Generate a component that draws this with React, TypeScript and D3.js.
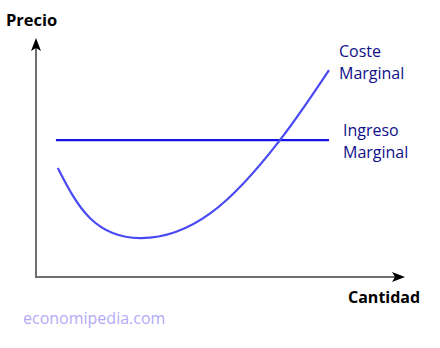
import React from "react";
import * as d3 from "d3";

const costQ = [5.9, 14.6, 28.2, 47.2, 66.1, 79.4];
const costP = [45.6, 24.7, 16.3, 26.6, 57.3, 86.6];
const revenueQ = [5.4, 79.4];
const revenueP = [57.3, 57.3];
const axisLabels = ["Precio", "Cantidad"];
const costLabel = ["Coste", "Marginal"];
const revenueLabel = ["Ingreso", "Marginal"];
const watermark = "economipedia.com";

export default function App() {
  const W = 440, H = 348;
  const x = d3.scaleLinear().domain([0, 100]).range([36, 405]);
  const y = d3.scaleLinear().domain([0, 100]).range([277, 38]);
  const line = d3
    .line<[number, number]>()
    .x((d) => x(d[0]))
    .y((d) => y(d[1]))
    .curve(d3.curveNatural);
  const costPts = costQ.map((q, i) => [q, costP[i]] as [number, number]);
  const revPts = revenueQ.map((q, i) => [q, revenueP[i]] as [number, number]);
  const straight = d3.line<[number, number]>().x((d) => x(d[0])).y((d) => y(d[1]));
  const font = "'Open Sans', 'Liberation Sans', sans-serif";
  const x0 = x(0), y0 = y(0), yTop = y(100), xEnd = x(100);
  return (
    <svg width={W} height={H} style={{ position: "absolute", left: 0, top: 0, background: "#fff" }}>
      <line x1={x0} y1={y0} x2={x0} y2={yTop + 8} stroke="#6e6e6e" strokeWidth={2} />
      <line x1={x0 - 1} y1={y0} x2={xEnd - 8} y2={y0} stroke="#6e6e6e" strokeWidth={2} />
      <path d={`M${x0},${yTop} L${x0 - 5},${yTop + 13} L${x0},${yTop + 10} L${x0 + 5},${yTop + 13} Z`} fill="#000" />
      <path d={`M${xEnd},${y0} L${xEnd - 13},${y0 - 5} L${xEnd - 10},${y0} L${xEnd - 13},${y0 + 5} Z`} fill="#000" />
      <path d={straight(revPts) || ""} fill="none" stroke="#1414e6" strokeWidth={2.2} />
      <path d={line(costPts) || ""} fill="none" stroke="#4a4af5" strokeWidth={2.2} />
      <text x={6} y={26} fontFamily={font} fontWeight="bold" fontSize={16.5} fill="#000">{axisLabels[0]}</text>
      <text x={348} y={303} fontFamily={font} fontWeight="bold" fontSize={16} fill="#000">{axisLabels[1]}</text>
      <text fontFamily={font} fontSize={16} fill="#10108a">
        <tspan x={339} y={57}>{costLabel[0]}</tspan>
        <tspan x={339} y={79}>{costLabel[1]}</tspan>
      </text>
      <text fontFamily={font} fontSize={16} fill="#10108a">
        <tspan x={343} y={136}>{revenueLabel[0]}</tspan>
        <tspan x={343} y={158}>{revenueLabel[1]}</tspan>
      </text>
      <text x={23} y={324} fontFamily={font} fontSize={16} fill="#b3aaf7">{watermark}</text>
    </svg>
  );
}
